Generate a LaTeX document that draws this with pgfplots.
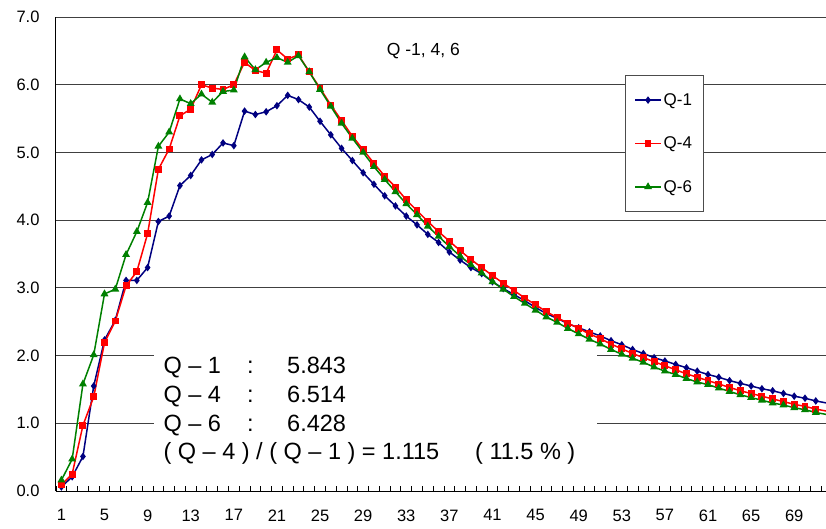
\documentclass[border=0pt]{standalone}
\usepackage{fontspec}
\setmainfont{Liberation Sans}
\usepackage{pgfplots}
\usepackage{pgfplotstable}
\pgfplotsset{compat=1.18}
\newcommand\fs[1]{\fontsize{#1}{#1}\selectfont}
\definecolor{qone}{RGB}{0,0,128}
\definecolor{qfour}{RGB}{255,0,0}
\definecolor{qsix}{RGB}{0,128,0}

\pgfplotstableread{
x  q1    q4    q6
1  0.06  0.09  0.16
2  0.21  0.25  0.47
3  0.51  0.97  1.58
4  1.55  1.39  2.01
5  2.23  2.19  2.91
6  2.52  2.51  2.98
7  3.11  3.03  3.49
8  3.11  3.24  3.83
9  3.30  3.80  4.26
10 3.98  4.75  5.09
11 4.06  5.05  5.30
12 4.51  5.54  5.79
13 4.66  5.64  5.72
14 4.89  6.00  5.86
15 4.97  5.95  5.74
16 5.14  5.93  5.90
17 5.10  6.00  5.92
18 5.61  6.33  6.41
19 5.56  6.21  6.22
20 5.60  6.17  6.33
21 5.69  6.514 6.40
22 5.843 6.38  6.33
23 5.78  6.44  6.428
24 5.67  6.19  6.19
25 5.46  5.95  5.93
26 5.26  5.70  5.68
27 5.06  5.47  5.43
28 4.88  5.24  5.21
29 4.70  5.04  5.00
30 4.53  4.84  4.79
31 4.36  4.65  4.60
32 4.21  4.49  4.42
33 4.06  4.30  4.24
34 3.93  4.14  4.08
35 3.79  3.98  3.91
36 3.67  3.83  3.76
37 3.53  3.69  3.61
38 3.41  3.55  3.47
39 3.30  3.42  3.34
40 3.21  3.30  3.22
41 3.09  3.18  3.09
42 2.99  3.07  2.98
43 2.90  2.96  2.87
44 2.81  2.85  2.77
45 2.71  2.75  2.67
46 2.62  2.65  2.57
47 2.55  2.56  2.49
48 2.47  2.48  2.40
49 2.41  2.40  2.32
50 2.35  2.32  2.24
51 2.29  2.25  2.17
52 2.22  2.17  2.09
53 2.16  2.10  2.02
54 2.09  2.03  1.96
55 2.03  1.97  1.90
56 1.97  1.91  1.83
57 1.92  1.85  1.77
58 1.87  1.79  1.72
59 1.82  1.73  1.66
60 1.77  1.68  1.61
61 1.72  1.63  1.57
62 1.68  1.58  1.52
63 1.63  1.53  1.47
64 1.59  1.48  1.42
65 1.55  1.44  1.38
66 1.51  1.40  1.34
67 1.48  1.36  1.30
68 1.44  1.32  1.27
69 1.40  1.28  1.23
70 1.37  1.25  1.20
71 1.33  1.21  1.16
72 1.30  1.18  1.13
}\data

\begin{document}
\begin{tikzpicture}
\begin{axis}[
  at={(0pt,0pt)}, anchor=south west,
  width=770pt, height=474pt, scale only axis,
  xmin=0.5, xmax=71.95, ymin=0, ymax=7,
  axis x line*=bottom, axis y line*=left,
  axis line style={-, black, line width=1pt},
  xtick={1,5,...,69},
  xticklabels={1,5,9,13,17,21,25,29,33,37,41,45,49,53,57,61,65,69},
  minor xtick={0.5,1.5,...,72.5},
  ytick={0,1,...,7},
  yticklabels={0.0,1.0,2.0,3.0,4.0,5.0,6.0,7.0},
  major tick length=0pt, minor tick length=5pt,
  tick align=inside,
  minor tick style={black, line width=0.8pt},
  tick label style={font=\fs{16.5}},
  xticklabel style={yshift=-15pt},
  yticklabel style={xshift=-13pt},
  ymajorgrids,
  major grid style={black!75, line width=0.8pt},
  legend style={at={(0.739,0.8776)}, anchor=north west,
    draw=black!70, line width=0.8pt, fill=white,
    font=\fs{17}, inner xsep=9pt, inner ysep=16pt,
    row sep=26pt, nodes={inner sep=2pt}},
  legend cell align=left,
  legend image code/.code={
    \draw[mark repeat=2, mark phase=2] plot coordinates {(0pt,0pt) (12.85pt,0pt) (25.7pt,0pt)};},
]
% white label panel hides the grid under the summary text
\fill[white] (axis cs:9.58,0.31) rectangle (axis cs:50.73,2.16);

\addplot[qone, line width=1.5pt, mark=diamond*, mark size=2.6pt] table[x=x, y=q1] {\data};
\addplot[qfour, line width=1.5pt, mark=square*, mark size=2.7pt] table[x=x, y=q4] {\data};
\addplot[qsix, line width=1.5pt, mark=triangle*, mark size=3.1pt] table[x=x, y=q6] {\data};
\legend{Q-1, Q-4, Q-6}
\end{axis}

% title
\node[anchor=base west, inner sep=0pt, font=\fs{17.5}] at (330.7pt,435pt) {Q -1, 4, 6};

% summary text
\begin{scope}[every node/.style={anchor=base west, inner sep=0pt, font=\fs{23.5}}]
\node at (107.3pt,117.7pt) {Q – 1};
\node at (191pt,117.7pt) {:};
\node at (231pt,117.7pt) {5.843};
\node at (107.3pt,88.8pt) {Q – 4};
\node at (191pt,88.8pt) {:};
\node at (231pt,88.8pt) {6.514};
\node at (107.3pt,60pt) {Q – 6};
\node at (191pt,60pt) {:};
\node at (231pt,60pt) {6.428};
\node at (107.3pt,31.8pt) {( Q – 4 ) / ( Q – 1 ) = 1.115};
\node at (419pt,31.8pt) {( 11.5 \% )};
\end{scope}

\pgfresetboundingbox
\useasboundingbox (-56pt,-37pt) rectangle (770pt,491pt);
\end{tikzpicture}
\end{document}
